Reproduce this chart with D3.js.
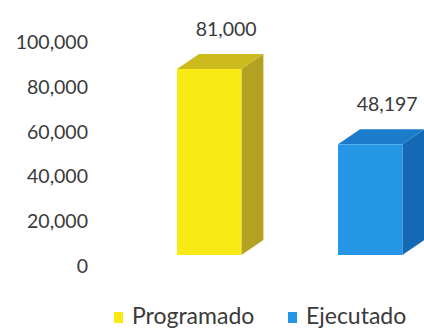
<!DOCTYPE html>
<html>
<head>
<meta charset="utf-8">
<script src="https://cdn.jsdelivr.net/npm/d3@7"></script>
<style>
  html, body { margin: 0; padding: 0; background: #fff; }
  svg { display: block; }
  text { font-family: Lato, "Open Sans", sans-serif; fill: #3a3a3a; }
</style>
</head>
<body>
<svg id="chart" width="424" height="334"></svg>
<script>
// Data
const categories = ["Programado", "Ejecutado"];
const values = [81000, 48197];
const tickValues = [0, 20000, 40000, 60000, 80000, 100000];
const frontColors = ["#f9e914", "#2596e6"];
const topColors = ["#cdbb1e", "#1b7ccc"];
const sideColors = ["#b3a222", "#1568b4"];

const W = 424, H = 334;
const svg = d3.select("#chart");

// 3D depth offset of the bars
const depthX = 22, depthY = 15;

// Scales: axis labels sit on the back wall, bars on the front floor
const yAxisScale = d3.scaleLinear().domain([0, 100000]).range([266.5, 42]);
const yBar = d3.scaleLinear().domain([0, 100000]).range([255, 25.4]);
const x = d3.scaleBand()
  .domain(categories)
  .range([128.7, 450.7])
  .paddingInner(0.6)
  .paddingOuter(0.3);
const bw = x.bandwidth();

// Y axis (labels only)
const yAxis = d3.axisLeft(yAxisScale)
  .tickValues(tickValues)
  .tickFormat(d3.format(","))
  .tickSize(0)
  .tickPadding(0);
const gAxis = svg.append("g")
  .attr("transform", "translate(88,0)")
  .call(yAxis);
gAxis.select(".domain").remove();
gAxis.selectAll("text")
  .attr("font-size", 19.5)
  .attr("font-family", "Lato, sans-serif")
  .attr("fill", "#3a3a3a");

// Bars
const bars = svg.append("g").selectAll("g")
  .data(categories.map((c, i) => ({ c, v: values[i], i })))
  .join("g");

// side face
bars.append("path")
  .attr("fill", d => sideColors[d.i])
  .attr("d", d => {
    const x1 = x(d.c) + bw, y0 = yBar(0), y1 = yBar(d.v);
    return `M${x1},${y1}L${x1 + depthX},${y1 - depthY}L${x1 + depthX},${y0 - depthY}L${x1},${y0}Z`;
  });

// top face
bars.append("path")
  .attr("fill", d => topColors[d.i])
  .attr("d", d => {
    const x0 = x(d.c), y1 = yBar(d.v);
    return `M${x0},${y1}L${x0 + depthX},${y1 - depthY}L${x0 + bw + depthX},${y1 - depthY}L${x0 + bw},${y1}Z`;
  });

// front face
bars.append("rect")
  .attr("x", d => x(d.c))
  .attr("y", d => yBar(d.v))
  .attr("width", bw)
  .attr("height", d => yBar(0) - yBar(d.v))
  .attr("fill", d => frontColors[d.i]);

// value labels
bars.append("text")
  .attr("x", d => x(d.c) + bw / 2 + 17)
  .attr("y", d => yBar(d.v) - 33)
  .attr("text-anchor", "middle")
  .attr("font-size", 19.5)
  .text(d => d3.format(",")(d.v));

// Legend
const legendX = [114, 288];
const legend = svg.append("g").selectAll("g")
  .data(categories)
  .join("g")
  .attr("transform", (d, i) => `translate(${legendX[i]},312)`);
legend.append("rect")
  .attr("width", 9).attr("height", 11)
  .attr("fill", (d, i) => frontColors[i]);
legend.append("text")
  .attr("x", 18)
  .attr("y", 12)
  .attr("font-size", 23)
  .text(d => d);
</script>
</body>
</html>
